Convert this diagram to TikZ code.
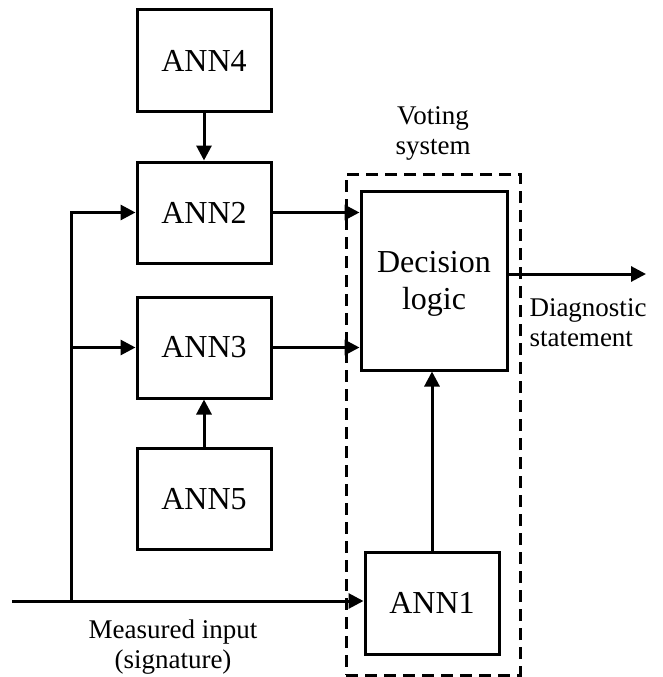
\documentclass[tikz,border=0pt]{standalone}
\usepackage{fontspec}
\setmainfont{Liberation Serif}
\usetikzlibrary{arrows.meta}
\begin{document}
\begin{tikzpicture}[x=1pt,y=-1pt, line width=3pt,
  box/.style={draw, rectangle, inner sep=0pt, align=center, font=\fontsize{32}{37}\selectfont},
  lbl/.style={inner sep=0pt, align=center, font=\fontsize{27}{30}\selectfont},
  arr/.style={-{Triangle[length=15pt,width=15pt]}}]
\useasboundingbox (0,0) rectangle (663,677);
\node[box, minimum width=134pt, minimum height=101pt] (ann4) at (204,60.5) {ANN4};
\node[box, minimum width=134pt, minimum height=101pt] (ann2) at (204,212.5) {ANN2};
\node[box, minimum width=134pt, minimum height=101pt] (ann3) at (204,347.5) {ANN3};
\node[box, minimum width=134pt, minimum height=101pt] (ann5) at (204,499) {ANN5};
\node[box, minimum width=134pt, minimum height=102pt] (ann1) at (432,603) {ANN1};
\node[box, minimum width=146pt, minimum height=179pt, text depth=-6pt] (dec) at (434,280.5) {Decision\\logic};
\node[draw, dash pattern=on 12pt off 7pt, rectangle, minimum width=174pt, minimum height=501pt] (vote) at (433,424.5) {};
\node[lbl] (votelbl) at (433,133) {Voting\\system};
\node[lbl, align=left, anchor=west] (diag) at (528,323) {Diagnostic\\statement};
\node[lbl] (meas) at (173,647) {Measured input\\(signature)};
\coordinate (in) at (12,601);
\coordinate (split) at (71,601);
\coordinate (out) at (646,274);
\draw[arr] (in) -- (in -| ann1.west);
\draw[arr] (split) |- (ann2.west);
\draw[arr] (split |- ann3.west) -- (ann3.west);
\draw[arr] (ann4) -- (ann2);
\draw[arr] (ann5) -- (ann3);
\draw[arr] (ann2.east) -- (ann2.east -| dec.west);
\draw[arr] (ann3.east) -- (ann3.east -| dec.west);
\draw[arr] (ann1.north) -- (ann1.north |- dec.south);
\draw[arr] (dec.east |- out) -- (out);
\end{tikzpicture}
\end{document}
